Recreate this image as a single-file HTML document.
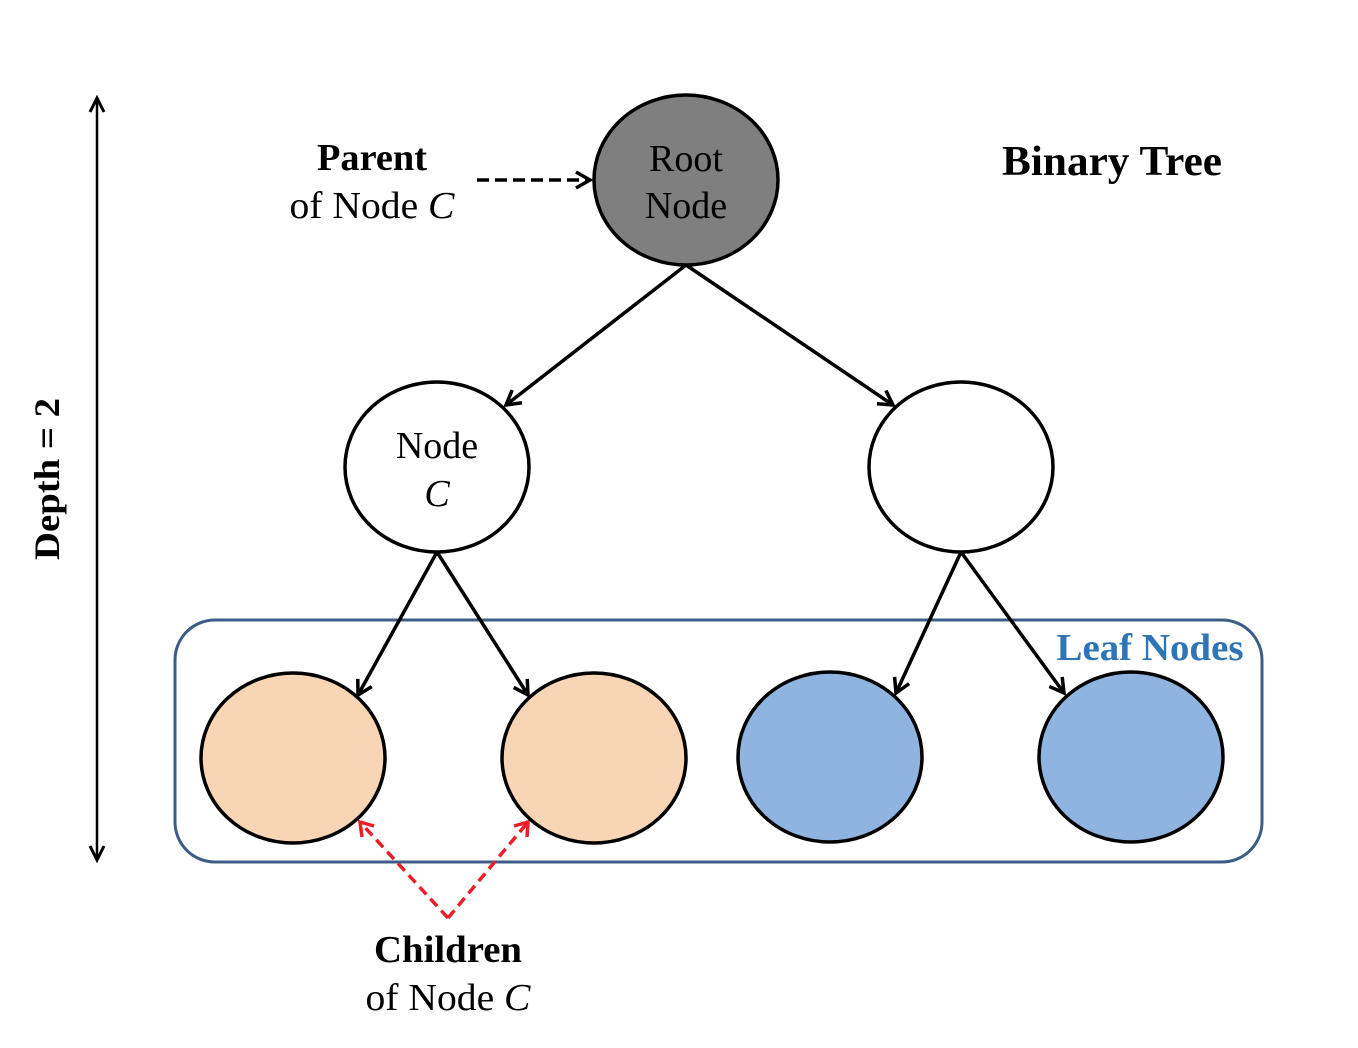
<!DOCTYPE html>
<html><head><meta charset="utf-8"><style>
html,body{margin:0;padding:0;background:#fff;}
svg{display:block;}
text{font-family:"Liberation Serif",serif;}
</style></head><body>
<svg width="1358" height="1048" viewBox="0 0 1358 1048" xmlns="http://www.w3.org/2000/svg">
<defs>
<marker id="a" viewBox="0 0 20 20" refX="17" refY="10" markerWidth="20" markerHeight="20" markerUnits="userSpaceOnUse" orient="auto"><path d="M3,2 L17,10 L3,18" fill="none" stroke="#000" stroke-width="3.5"/></marker>
<marker id="b" viewBox="0 0 20 20" refX="17" refY="10" markerWidth="20" markerHeight="20" markerUnits="userSpaceOnUse" orient="auto-start-reverse"><path d="M3,3 L17,10 L3,17" fill="none" stroke="#000" stroke-width="3"/></marker>
</defs>
<rect x="175" y="620" width="1087" height="242" rx="40" fill="none" stroke="#3d5d88" stroke-width="3"/>
<line x1="97" y1="98" x2="97" y2="860" stroke="#000" stroke-width="2.5" marker-start="url(#b)" marker-end="url(#b)"/>
<text transform="translate(59,479) rotate(-90)" text-anchor="middle" font-size="36" font-weight="bold" textLength="162" lengthAdjust="spacingAndGlyphs">Depth = 2</text>
<g stroke="#000" stroke-width="3.5" fill="none">
<line x1="686" y1="265" x2="506" y2="405" marker-end="url(#a)"/>
<line x1="686" y1="265" x2="893" y2="405" marker-end="url(#a)"/>
<line x1="437" y1="552" x2="358" y2="695" marker-end="url(#a)"/>
<line x1="437" y1="552" x2="528" y2="695" marker-end="url(#a)"/>
<line x1="961" y1="552" x2="896" y2="693" marker-end="url(#a)"/>
<line x1="961" y1="552" x2="1064" y2="693" marker-end="url(#a)"/>
<line x1="477" y1="180" x2="590" y2="180" stroke-dasharray="12,6" marker-end="url(#a)"/>
</g>
<g stroke="#e8202a" stroke-width="3.5" fill="none" stroke-dasharray="10,6">
<polyline points="448,918 360,822"/>
<polyline points="448,918 528,822"/>
</g>
<path d="M374,826 L360,822 L362,837" fill="none" stroke="#e8202a" stroke-width="3.5"/>
<path d="M514,826 L528,822 L527,837" fill="none" stroke="#e8202a" stroke-width="3.5"/>
<g stroke="#000" stroke-width="3.5">
<ellipse cx="686" cy="180" rx="92" ry="85" fill="#7f7f7f"/>
<ellipse cx="437" cy="467" rx="92" ry="85" fill="#fff"/>
<ellipse cx="961" cy="467" rx="92" ry="85" fill="#fff"/>
<ellipse cx="293" cy="758" rx="92" ry="85" fill="#f8d5b5"/>
<ellipse cx="594" cy="758" rx="92" ry="85" fill="#f8d5b5"/>
<ellipse cx="830" cy="757" rx="92" ry="85" fill="#8fb4df"/>
<ellipse cx="1131" cy="757" rx="92" ry="85" fill="#8fb4df"/>
</g>
<g font-size="38" text-anchor="middle">
<text x="686" y="171">Root</text>
<text x="686" y="218">Node</text>
<text x="437" y="458">Node</text>
<text x="437" y="506" font-style="italic">C</text>
<text x="372" y="170" font-weight="bold" textLength="110" lengthAdjust="spacingAndGlyphs">Parent</text>
<text x="372" y="218" textLength="165" lengthAdjust="spacingAndGlyphs">of Node <tspan font-style="italic">C</tspan></text>
<text x="448" y="962" font-weight="bold" textLength="148" lengthAdjust="spacingAndGlyphs">Children</text>
<text x="448" y="1010" textLength="165" lengthAdjust="spacingAndGlyphs">of Node <tspan font-style="italic">C</tspan></text>
<text x="1112" y="175" font-weight="bold" font-size="42" textLength="220" lengthAdjust="spacingAndGlyphs">Binary Tree</text>
<text x="1150" y="660" font-weight="bold" fill="#2e75b6" textLength="187" lengthAdjust="spacingAndGlyphs">Leaf Nodes</text>
</g>
</svg>
</body></html>
